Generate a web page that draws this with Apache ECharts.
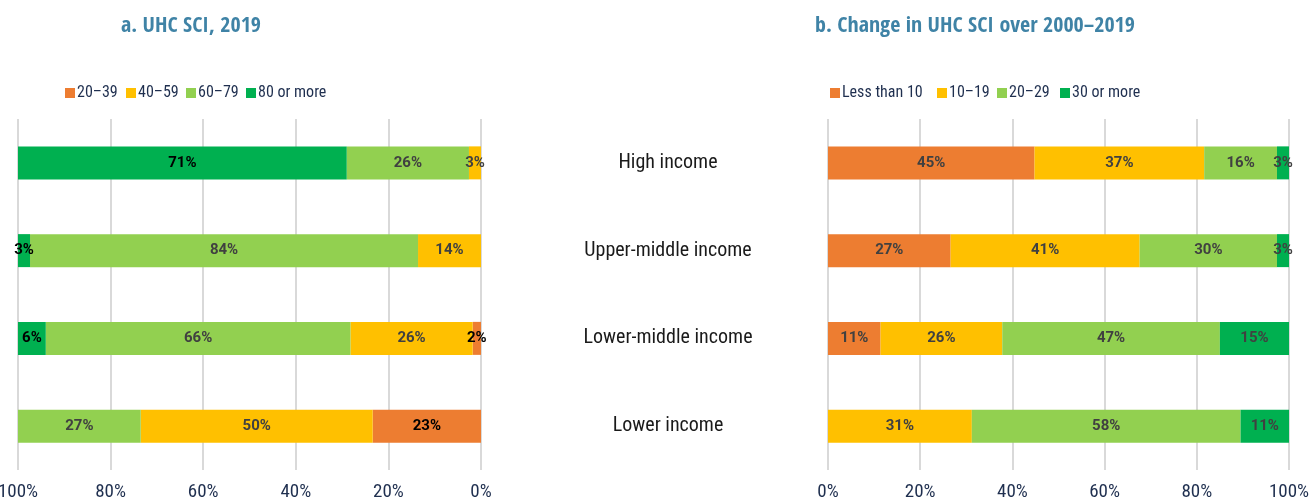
<!DOCTYPE html>
<html>
<head>
<meta charset="utf-8">
<script src="https://cdn.jsdelivr.net/npm/echarts@6/dist/echarts.min.js"></script>
<style>
  html, body { margin: 0; padding: 0; background: #fff; }
  #chart { width: 1309px; height: 502px; }
</style>
</head>
<body>
<div id="chart"></div>
<script>
const categories = ['High income', 'Upper-middle income', 'Lower-middle income', 'Lower income'];

// panel a: UHC SCI, 2019 (share of countries, %)
const seriesNamesA = ['20–39', '40–59', '60–79', '80 or more'];
const a20to39 = [null, null, 1.8, 23.4];
const a40to59 = [2.6, 13.6, 26.4, 50.1];
const a60to79 = [26.4, 83.8, 65.8, 26.5];
const a80plus = [71.0, 2.6, 6.0, null];

// panel b: change in UHC SCI over 2000-2019 (share of countries, %)
const seriesNamesB = ['Less than 10', '10–19', '20–29', '30 or more'];
const bLess10 = [44.8, 26.6, 11.4, null];
const b10to19 = [36.8, 41.0, 26.4, 31.2];
const b20to29 = [15.8, 29.8, 47.2, 58.3];
const b30plus = [2.6, 2.6, 15.0, 10.5];

const xTicks = [0, 20, 40, 60, 80, 100];

(function() {
  const chartDom = document.getElementById('chart');
  const chart = echarts.init(chartDom);

  const FONT = "'Roboto Condensed', 'Liberation Sans Narrow', sans-serif";
  const TITLE_FONT = "'Open Sans Condensed', 'Roboto Condensed', sans-serif";
  const LABEL_FONT = "Roboto, sans-serif";
  const palette = ['#ED7D31', '#FFC000', '#92D050', '#00B050'];
  const gray = '#404040';
  const navy = '#1f2f4f';

  const makeSeries = (name, data, idx, axisIdx, labelColor) => ({
    name: name,
    type: 'bar',
    stack: 'p' + axisIdx,
    xAxisIndex: axisIdx,
    yAxisIndex: axisIdx,
    data: data,
    barWidth: 33,
    itemStyle: { color: palette[idx] },
    label: {
      show: true,
      position: 'inside',
      color: labelColor,
      fontFamily: LABEL_FONT,
      fontWeight: 'bold',
      fontSize: 15,
      formatter: p => (p.value == null ? '' : Math.round(p.value) + '%')
    },
    emphasis: { disabled: true }
  });

  // one legend box per item so each sits where the original puts it
  const legendLeftA = [65, 126, 186, 246];
  const legendLeftB = [830, 937, 997, 1060];
  const makeLegend = (name, left) => ({
    data: [name],
    left: left, top: 85,
    padding: 0,
    icon: 'rect', itemWidth: 10, itemHeight: 10,
    textStyle: { color: navy, fontFamily: FONT, fontSize: 16, padding: [0, 0, 0, -3] }
  });

  const xAxisBase = {
    type: 'value',
    min: 0,
    max: 100,
    interval: 20,
    axisLine: { show: false },
    axisTick: { show: false },
    axisLabel: { formatter: '{value}%', color: navy, fontFamily: FONT, fontSize: 19, margin: 13 },
    splitLine: { show: true, lineStyle: { color: '#d9d9d9', width: 2 } }
  };

  const option = {
    backgroundColor: '#fff',
    animation: false,
    title: [
      {
        text: 'a. UHC SCI, 2019',
        left: 186, top: 10, textAlign: 'center',
        textStyle: { color: '#3f83a6', fontFamily: TITLE_FONT, fontWeight: 'bold', fontSize: 22 }
      },
      {
        text: 'b. Change in UHC SCI over 2000–2019',
        left: 970, top: 10, textAlign: 'center',
        textStyle: { color: '#3f83a6', fontFamily: TITLE_FONT, fontWeight: 'bold', fontSize: 22 }
      }
    ],
    legend: seriesNamesA.map((n, i) => makeLegend(n, legendLeftA[i]))
      .concat(seriesNamesB.map((n, i) => makeLegend(n, legendLeftB[i]))),
    grid: [
      { left: 18, width: 463, top: 119, bottom: 32, outerBoundsMode: 'none' },
      { left: 828, width: 461, top: 119, bottom: 32, outerBoundsMode: 'none' }
    ],
    xAxis: [
      Object.assign({}, xAxisBase, { gridIndex: 0, inverse: true }),
      Object.assign({}, xAxisBase, { gridIndex: 1 })
    ],
    yAxis: [
      {
        gridIndex: 0, type: 'category', data: categories, inverse: true,
        axisLine: { show: false }, axisTick: { show: false }, axisLabel: { show: false }
      },
      {
        gridIndex: 1, type: 'category', data: categories, inverse: true,
        axisLine: { show: false }, axisTick: { show: false },
        axisLabel: { color: '#1a1a1a', fontFamily: FONT, fontSize: 20, align: 'center', margin: 160 }
      }
    ],
    series: [
      makeSeries(seriesNamesA[0], a20to39, 0, 0, '#000'),
      makeSeries(seriesNamesA[1], a40to59, 1, 0, gray),
      makeSeries(seriesNamesA[2], a60to79, 2, 0, gray),
      makeSeries(seriesNamesA[3], a80plus, 3, 0, '#000'),
      makeSeries(seriesNamesB[0], bLess10, 0, 1, gray),
      makeSeries(seriesNamesB[1], b10to19, 1, 1, gray),
      makeSeries(seriesNamesB[2], b20to29, 2, 1, gray),
      makeSeries(seriesNamesB[3], b30plus, 3, 1, gray)
    ]
  };

  chart.setOption(option);
  window.addEventListener('resize', () => chart.resize());
})();
</script>
</body>
</html>
